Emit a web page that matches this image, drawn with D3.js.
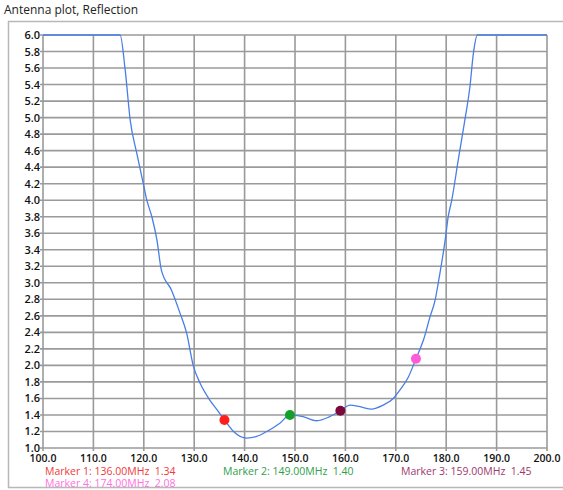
<!DOCTYPE html>
<html>
<head>
<meta charset="utf-8">
<script src="https://cdn.jsdelivr.net/npm/d3@7"></script>
<style>
  body { margin: 0; background: #fff; }
  svg { font-family: "Open Sans", "DejaVu Sans", sans-serif; }
</style>
</head>
<body>
<svg class="chart"></svg>
<script>
// sweep readings (MHz -> SWR)
const freqs = [100, 115.3, 116.3, 117.3, 118.6, 119.9, 120.6, 121.6, 122.6, 123.5, 125.5, 127.2, 128.5,
  129.8, 131.2, 133.1, 134.8, 136.0, 137.8, 140.4, 142.4, 144.4, 147.0, 149.0, 151.6, 154.3, 156.9,
  159.0, 160.9, 162.9, 165.2, 167.5, 169.5, 170.8, 172.5, 174.0, 175.5, 176.8, 177.8, 178.4, 179.8,
  180.4, 181.1, 182.4, 183.7, 184.7, 185.4, 186.2, 200];
const swr = [6.0, 6.0, 5.58, 4.97, 4.57, 4.20, 4.0, 3.80, 3.52, 3.15, 2.91, 2.63, 2.39,
  2.0, 1.78, 1.58, 1.44, 1.34, 1.20, 1.12, 1.14, 1.20, 1.30, 1.40, 1.38, 1.33, 1.38,
  1.45, 1.52, 1.50, 1.47, 1.52, 1.60, 1.70, 1.86, 2.08, 2.31, 2.59, 2.79, 2.99, 3.52,
  3.80, 4.0, 4.49, 4.97, 5.37, 5.78, 6.0, 6.0];

const markerNames = ["Marker 1", "Marker 2", "Marker 3", "Marker 4"];
const markerFreqs = [136, 149, 159, 174];
const markerSwr = [1.34, 1.40, 1.45, 2.08];

const xTicks = d3.range(100, 201, 10);
const yTicks = d3.range(1.0, 6.01, 0.2);

const width = 563, height = 490;
const markerColors = ["#ff1e1e", "#13a02a", "#7a0a3c", "#ff5ad8"];
const labelColors = ["#f03a3a", "#2ea04a", "#a0386e", "#ff70e0"];

const svg = d3.select(".chart").attr("width", width).attr("height", height);

const x = d3.scaleLinear().domain([100, 200]).range([43, 547]);
const y = d3.scaleLinear().domain([1, 6]).range([448, 35]);

// outer frame
svg.append("path")
  .attr("d", `M${width},21.5 H8.5 V487.5 H${width}`)
  .attr("fill", "none").attr("stroke", "#b8b8b8").attr("stroke-width", 1.5);

svg.append("text")
  .attr("x", 4).attr("y", 14)
  .attr("font-size", 12).attr("fill", "#222")
  .text("Antenna plot, Reflection");

// grid
const grid = svg.append("g").attr("stroke", "#9a9a9a").attr("stroke-width", 1.6);
grid.selectAll(".vg").data(xTicks).enter().append("line")
  .attr("x1", d => x(d)).attr("x2", d => x(d))
  .attr("y1", y(6)).attr("y2", y(1) + 3);
grid.selectAll(".hg").data(yTicks).enter().append("line")
  .attr("x1", x(100) - 3).attr("x2", x(200))
  .attr("y1", d => y(d)).attr("y2", d => y(d));

// tick labels
svg.append("g").selectAll("text").data(yTicks).enter().append("text")
  .attr("x", x(100) - 3).attr("y", d => y(d) + 4)
  .attr("text-anchor", "end").attr("font-size", 11).attr("font-weight", 600)
  .attr("fill", "#111")
  .text(d => d3.format(".1f")(d));

svg.append("g").selectAll("text").data(xTicks).enter().append("text")
  .attr("x", d => x(d)).attr("y", y(1) + 14)
  .attr("text-anchor", "middle").attr("font-size", 10.5).attr("font-weight", 600)
  .attr("fill", "#111")
  .text(d => d3.format(".1f")(d));

// reflection curve
const line = d3.line()
  .x(d => x(d[0]))
  .y(d => y(d[1]))
  .curve(d3.curveMonotoneX);

svg.append("path")
  .datum(d3.zip(freqs, swr))
  .attr("d", line)
  .attr("fill", "none")
  .attr("stroke", "#4a7ee6")
  .attr("stroke-width", 1.3);

// markers
svg.append("g").selectAll("circle").data(markerFreqs).enter().append("circle")
  .attr("cx", d => x(d))
  .attr("cy", (d, i) => y(markerSwr[i]))
  .attr("r", 5)
  .attr("fill", (d, i) => markerColors[i]);

// marker readouts
const labelPos = [[45, 475], [223, 475], [401, 475], [45, 487]];
svg.append("g").selectAll("text").data(markerNames).enter().append("text")
  .attr("x", (d, i) => labelPos[i][0])
  .attr("y", (d, i) => labelPos[i][1])
  .attr("font-size", 10.5)
  .attr("fill", (d, i) => labelColors[i])
  .attr("xml:space", "preserve")
  .text((d, i) => `${d}: ${markerFreqs[i].toFixed(2)}MHz  ${markerSwr[i].toFixed(2)}`);
</script>
</body>
</html>
